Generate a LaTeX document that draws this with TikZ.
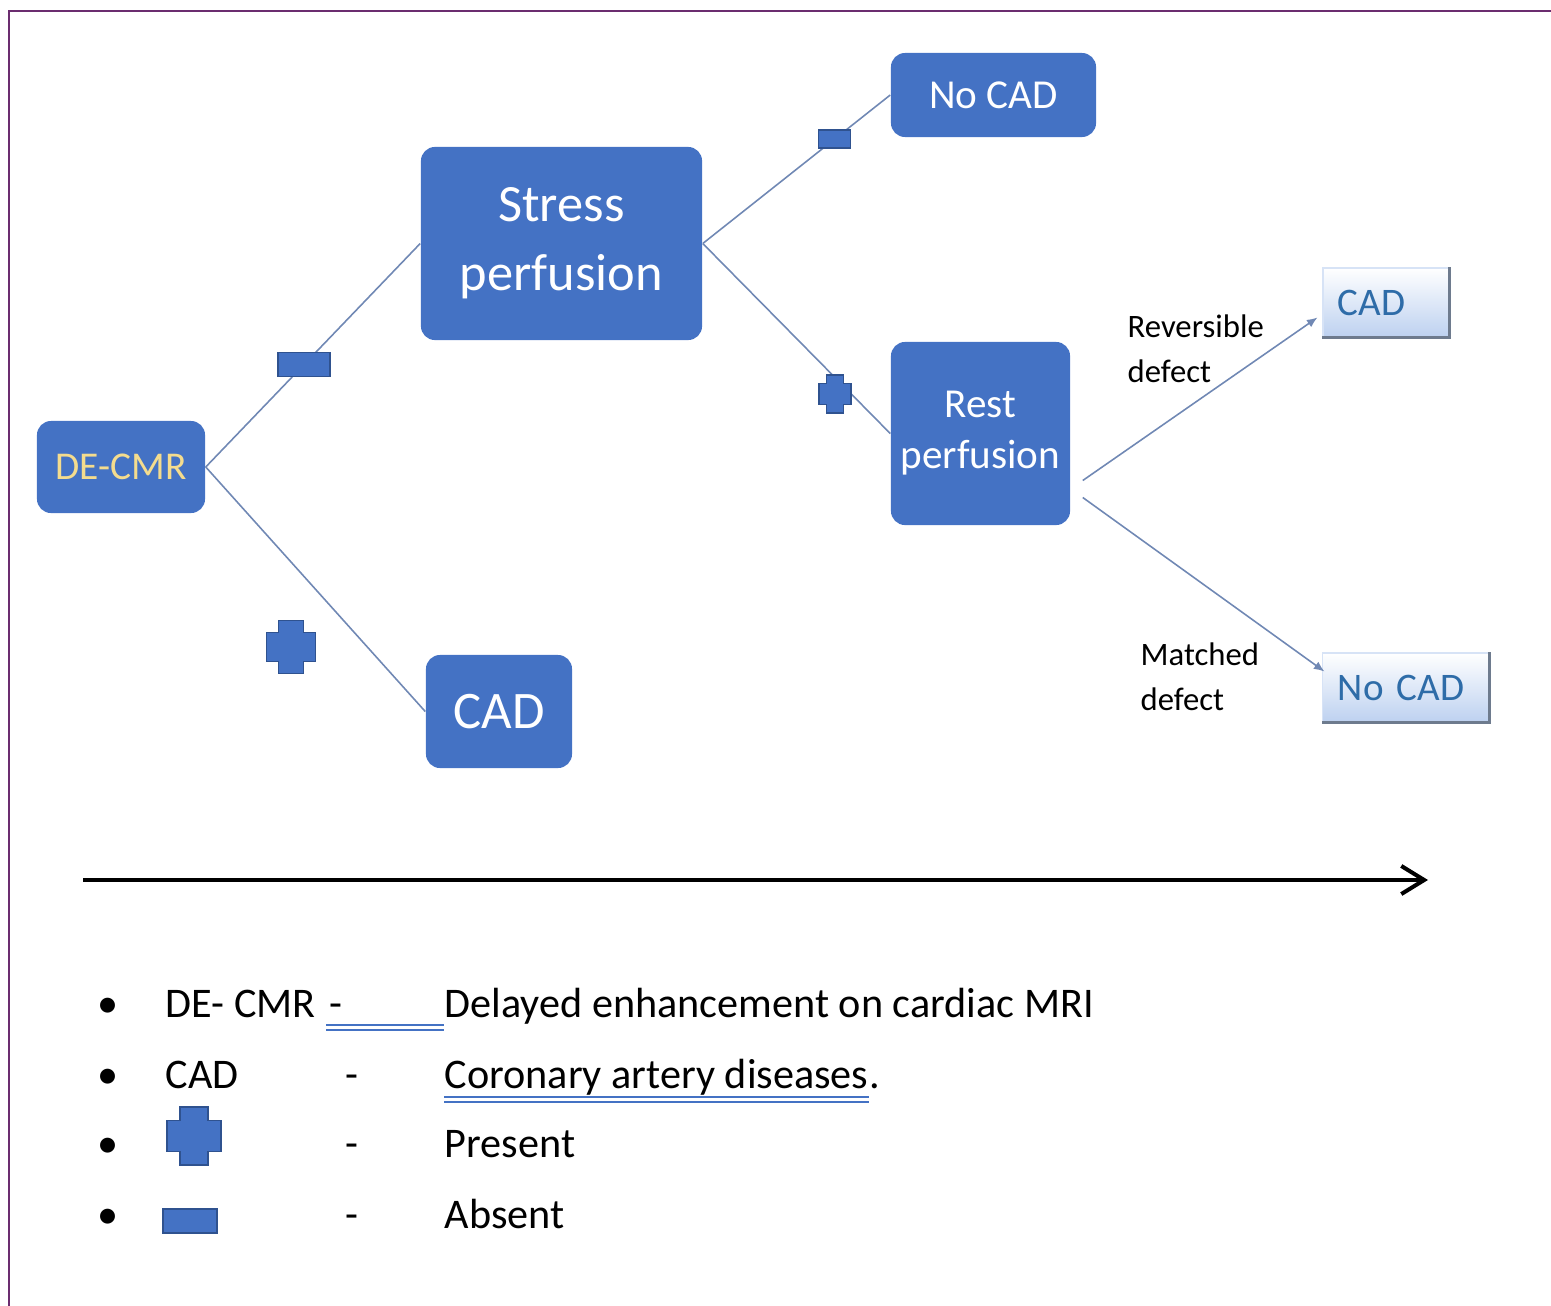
\documentclass[tikz,border=0pt]{standalone}
\usepackage{fontspec}
\setmainfont{Carlito}
\usepackage{tikz}
\usetikzlibrary{arrows.meta,positioning}
\definecolor{boxblue}{HTML}{4472C4}
\definecolor{signedge}{HTML}{2F528F}
\definecolor{linkgray}{HTML}{7088B4}
\definecolor{framepurple}{HTML}{6B2D6F}
\definecolor{goldtext}{HTML}{F4DC8E}
\definecolor{steeltext}{HTML}{2E6CA8}
\definecolor{paleblue}{HTML}{BDD1F0}
\definecolor{shadowgray}{HTML}{6E7B8E}

\begin{document}
\begin{tikzpicture}[x=0.01cm,y=-0.01cm,>=Latex,
    bluebox/.style={fill=boxblue,rounded corners=4pt,text=white,align=center,inner sep=0pt},
    palebox/.style={top color=white,bottom color=paleblue,text=steeltext,align=left,
                    draw=paleblue!60,line width=0.3pt,
                    inner xsep=0.15cm,inner ysep=0pt,minimum height=0.69cm,
                    font=\fontsize{11.1}{13}\selectfont},
    link/.style={draw=linkgray,line width=0.45pt},
    minussign/.style={fill=boxblue,draw=signedge,line width=0.4pt,inner sep=0pt},
    crosssign/.pic={\draw[fill=boxblue,draw=signedge,line width=0.4pt]
        (-0.26,-0.5) -- (0.26,-0.5) -- (0.26,-0.27) -- (0.5,-0.27) -- (0.5,0.27)
        -- (0.26,0.27) -- (0.26,0.5) -- (-0.26,0.5) -- (-0.26,0.27) -- (-0.5,0.27)
        -- (-0.5,-0.27) -- (-0.26,-0.27) -- cycle;},
    legend/.style={anchor=base west,inner sep=0pt,font=\fontsize{12}{14}\selectfont},
    uline/.style={draw=boxblue,line width=0.4pt}]
    \useasboundingbox (0,0) rectangle (1551,1306);
    \draw[framepurple,line width=0.85pt] (9,1306) -- (9,11) -- (1551,11);

    % decision tree
    \node[bluebox,minimum width=1.68cm,minimum height=0.92cm,text=goldtext,
          font=\fontsize{11.2}{13}\selectfont] (decmr) at (121,467) {DE-CMR};
    \node[bluebox,minimum width=2.81cm,minimum height=1.93cm,
          font=\fontsize{14.9}{19.6}\selectfont] (stress) at (561.5,243.5) {Stress\\perfusion};
    \node[bluebox,minimum width=1.46cm,minimum height=1.13cm,
          font=\fontsize{15}{18}\selectfont] (cadlow) at (499,711.5) {CAD};
    \node[bluebox,minimum width=2.05cm,minimum height=0.84cm,
          font=\fontsize{11.7}{14}\selectfont] (nocadtop) at (993.5,95) {No CAD};
    \node[bluebox,minimum width=1.79cm,minimum height=1.83cm,
          font=\fontsize{11.7}{14.5}\selectfont] (rest) at (980.5,433.5) {Rest\\perfusion};
    \node[palebox,text width=0.96cm] (cadright) at (1386,302.5) {CAD};
    \node[palebox,text width=1.36cm] (nocadright) at (1406,687.5) {No CAD};
    \draw[shadowgray,line width=1pt] (cadright.north east) -- (cadright.south east) -- (cadright.south west);
    \draw[shadowgray,line width=1pt] (nocadright.north east) -- (nocadright.south east) -- (nocadright.south west);

    \draw[link] (decmr.east) -- node[minussign,pos=0.458,minimum width=0.52cm,minimum height=0.24cm] (m1) {} (stress.west);
    \draw[link] (decmr.east) -- (cadlow.west);
    \draw[link] (stress.east) -- node[minussign,pos=0.704,minimum width=0.32cm,minimum height=0.18cm] (m2) {} (nocadtop.west);
    \draw[link] (stress.east) -- (rest.west);
    \pic[xscale=49,yscale=53] (p1) at (291,647) {crosssign};
    \pic[xscale=32,yscale=38] (p2) at (835,394) {crosssign};

    \draw[link,-{Latex[length=3pt,width=2.5pt]}] ([shift={(12,47)}]rest.east) -- ([shift={(-5,15)}]cadright.west);
    \draw[link,-{Latex[length=3pt,width=2.5pt]}] ([shift={(12,64)}]rest.east) -- ([shift={(2,-16)}]nocadright.west);
    \node[anchor=north west,align=left,inner sep=0pt,
          font=\fontsize{9.3}{12.8}\selectfont] (revlabel) at (1127,314) {Reversible\\defect};
    \node[anchor=north west,align=left,inner sep=0pt,
          font=\fontsize{9.3}{12.8}\selectfont] (matlabel) at (1140,642) {Matched\\defect};

    % time axis
    \coordinate (tstart) at (83,880);
    \coordinate (tend) at (1428,880);
    \draw[line width=1.15pt,-{Straight Barb[length=6.5pt,width=8pt]}] (tstart) -- (tend);

    % legend
    \node[legend] (bul1) at (97,1017) {\textbullet};
    \node[legend] (bul2) at (97,1088) {\textbullet};
    \node[legend] (bul3) at (97,1157) {\textbullet};
    \node[legend] (bul4) at (97,1228) {\textbullet};
    \node[legend] (abbr1) at (165,1017) {DE- CMR};
    \node[legend] (dash1) at (329,1017) {-};
    \node[legend] (def1) at (444,1017) {Delayed enhancement on cardiac MRI};
    \draw[uline] ([shift={(-3,8)}]dash1.base west) -- ([shift={(0,8)}]def1.base west);
    \draw[uline] ([shift={(-3,13)}]dash1.base west) -- ([shift={(0,13)}]def1.base west);
    \node[legend] (abbr2) at (165,1088) {CAD};
    \node[legend] (dash2) at (345,1088) {-};
    \node[legend] (def2) at (444,1088) {Coronary artery diseases};
    \node[legend] (def2dot) at (def2.base east) {.};
    \draw[uline] ([yshift=-0.09cm]def2.base west) -- ([yshift=-0.09cm]def2.base east);
    \draw[uline] ([yshift=-0.14cm]def2.base west) -- ([yshift=-0.14cm]def2.base east);
    \pic[xscale=54,yscale=58] (p3) at (194,1136) {crosssign};
    \node[legend] (dash3) at (345,1157) {-};
    \node[legend] (def3) at (444,1157) {Present};
    \node[minussign,minimum width=0.54cm,minimum height=0.24cm] (m3) at (190,1221) {};
    \node[legend] (dash4) at (345,1228) {-};
    \node[legend] (def4) at (444,1228) {Absent};
\end{tikzpicture}
\end{document}
